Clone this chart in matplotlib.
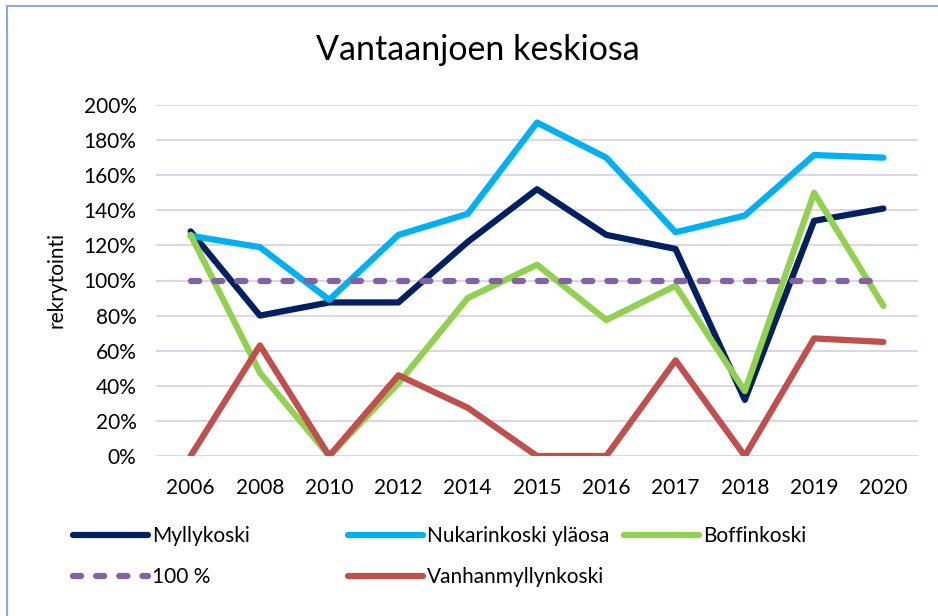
import matplotlib.pyplot as plt
import matplotlib.patches as mpatches

plt.rcParams['font.family'] = ['Lato', 'DejaVu Sans']

years = ['2006', '2008', '2010', '2012', '2014', '2015', '2016', '2017', '2018', '2019', '2020']
myllykoski = [128, 80, 87.5, 87.5, 122, 152, 126, 118, 32, 134, 141]
nukarinkoski = [125.5, 119, 89, 126, 138, 190, 170, 127.5, 137, 171.5, 170]
boffinkoski = [126, 47.5, 0, 41.5, 90, 109, 77.5, 97, 37, 150, 85.5]
vanhanmyllynkoski = [0, 63, 0, 46, 27.5, 0, 0, 54.5, 0, 67, 65]
sata = [100] * len(years)

fig = plt.figure(figsize=(9.38, 6.16), dpi=100)
ax = fig.add_axes([156 / 938, 1 - 456 / 616, 762 / 938, 351 / 616])

x = range(len(years))
lw = 4.5
l1, = ax.plot(x, myllykoski, color='#002060', lw=lw, solid_capstyle='round', label='Myllykoski')
l2, = ax.plot(x, nukarinkoski, color='#00B0F0', lw=lw, solid_capstyle='round', label='Nukarinkoski yläosa')
l3, = ax.plot(x, boffinkoski, color='#92D050', lw=lw, solid_capstyle='round', label='Boffinkoski')
l4, = ax.plot(x, sata, color='#8064A2', lw=lw, ls=(0, (1.3, 2.4)), dash_capstyle='round', label='100 %')
l5, = ax.plot(x, vanhanmyllynkoski, color='#C0504D', lw=lw, solid_capstyle='round', label='Vanhanmyllynkoski')

ax.set_xlim(-0.5, len(years) - 0.5)
ax.set_ylim(0, 200)
ax.set_yticks(range(0, 201, 20))
ax.set_yticklabels([f'{v}%' for v in range(0, 201, 20)])
ax.set_xticks(list(x))
ax.set_xticklabels(years)
ax.tick_params(length=0, labelsize=15, pad=14)
ax.tick_params(axis='x', pad=16)
ax.grid(axis='y', color='#D9D2E9', lw=1.3)
ax.set_axisbelow(True)
for s in ax.spines.values():
    s.set_visible(False)

ax.set_ylabel('rekrytointi', fontsize=15, labelpad=12)
fig.text(478 / 938, 1 - 50 / 616, 'Vantaanjoen keskiosa', ha='center', va='center', fontsize=24.5)

# legend, three columns placed like the original
common = dict(loc='upper left', frameon=False, fontsize=15, handlelength=3.6,
              handletextpad=0.2, borderpad=0, borderaxespad=0, labelspacing=1.0)
fig.legend(handles=[l1, l4], bbox_to_anchor=(73 / 938, 1 - 526 / 616), **common)
fig.legend(handles=[l2, l5], bbox_to_anchor=(348 / 938, 1 - 526 / 616), **common)
fig.legend(handles=[l3], bbox_to_anchor=(624 / 938, 1 - 526 / 616), **common)

# outer border (left and top visible)
fig.patches.append(mpatches.Rectangle((7 / 938, -0.05), 1.1, 1 - 6 / 616 + 0.05,
                                      transform=fig.transFigure, fill=False,
                                      edgecolor='#8EA9D6', lw=1.5))

fig.savefig('out.png', dpi=100)
